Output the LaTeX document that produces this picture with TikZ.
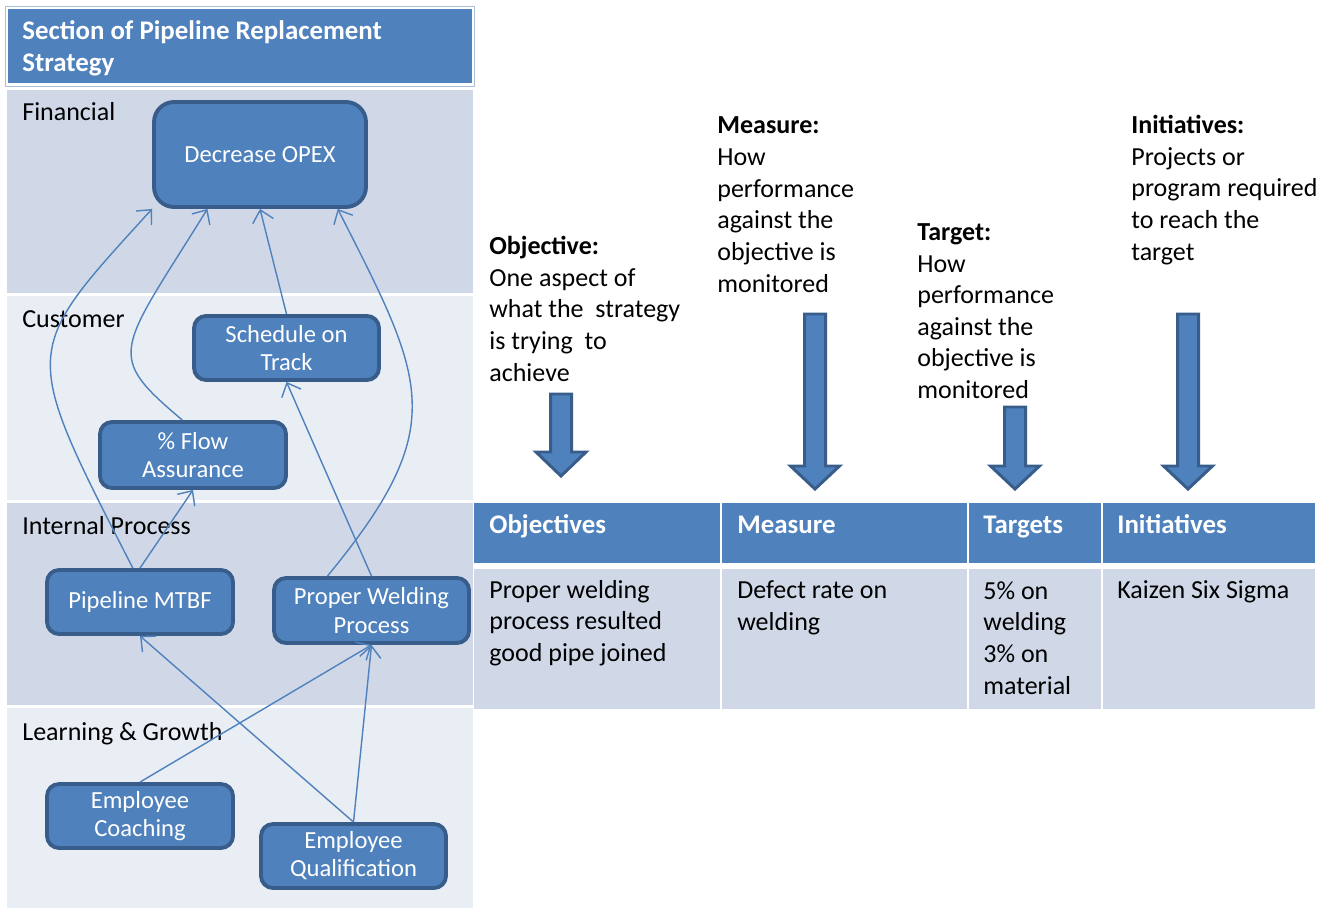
\documentclass[tikz,border=0pt]{standalone}
\usepackage{fontspec}
\setmainfont{Carlito}
\usepackage{tikz}
\usetikzlibrary{arrows.meta,positioning}
\usepackage{xcolor}
\definecolor{ofblue}{RGB}{79,129,189}
\definecolor{ofdark}{RGB}{56,93,138}
\definecolor{banddark}{RGB}{208,216,232}
\definecolor{bandlight}{RGB}{233,237,244}
\tikzstyle{goal} = [rectangle, rounded corners=0.24cm, minimum width=3.72cm, minimum height=1.28cm, draw=ofdark, fill=ofblue, line width=2.2pt, text=white, align=center, inner sep=0pt, font=\fontsize{14}{16}\selectfont]
\tikzstyle{link} = [ofblue, line width=0.8pt, -{Straight Barb[length=6.5pt,width=12pt]}]
\tikzstyle{lbl} = [anchor=base west, inner sep=0pt, align=left, font=\fontsize{14.8}{18}\selectfont]
\tikzstyle{headlbl} = [lbl, text=white, font=\bfseries\fontsize{15.3}{18}\selectfont]
\tikzstyle{bigarrow} = [draw=ofdark, fill=ofblue, line width=1.7pt]

\begin{document}
\begin{tikzpicture}[x=0.02cm, y=-0.02cm]
\useasboundingbox (0,0) rectangle (1331,909);

% perspective bands
\draw[banddark!70!ofblue, line width=0.4pt] (5,6) rectangle (474,86);
\fill[ofblue] (8,9) rectangle (472,83);
\fill[banddark] (7,90) rectangle (473,293);
\fill[bandlight] (7,296) rectangle (473,500);
\fill[banddark] (7,503) rectangle (473,705);
\fill[bandlight] (7,708) rectangle (473,908);

% multi-line labels sit on the baseline of their last line
\node[headlbl] (title) at (22,71.5) {Section of Pipeline Replacement\\Strategy};
\node[lbl] (fin) at (22,120) {Financial};
\node[lbl] (cus) at (22,327) {Customer};
\node[lbl] (ip) at (22,534) {Internal Process};
\node[lbl] (lg) at (22,740) {Learning \& Growth};

% strategy map
\node[goal, minimum width=4.24cm, minimum height=2.1cm, rounded corners=0.4cm] (opex) at (260,154.5) {Decrease OPEX};
\node[goal, minimum width=3.7cm] (sched) at (286.5,348) {Schedule on\\Track};
\node[goal, minimum height=1.32cm] (flow) at (193,455) {\% Flow\\Assurance};
\node[goal] (mtbf) at (140,602) {Pipeline MTBF};
\node[goal, minimum width=3.9cm, minimum height=1.3cm] (weld) at (371.5,610.5) {Proper Welding\\Process};
\node[goal] (coach) at (140,816) {Employee\\Coaching};
\node[goal, minimum width=3.7cm] (qual) at (353.5,856) {Employee\\Qualification};

\draw[link] (mtbf.102) .. controls (20,347) and (20,354) .. (opex.south west);
\draw[link] (flow.107) .. controls (104,354) and (118,353) .. (opex.226);
\draw[link] (sched.north) -- (opex.south);
\draw[link] (weld.142) .. controls (452,425) and (425,381) .. (opex.-35);
\draw[link] (mtbf.north) -- (flow.south);
\draw[link] (weld.north) -- (sched.south);
\draw[link] (qual.north) -- (mtbf.south);
\draw[link] (coach.north) -- (weld.south);
\draw[link] (qual.north) -- (weld.south);

% explanations
\node[lbl] (objtxt) at (489,381) {\textbf{Objective:}\\One aspect of\\what the~ strategy\\is trying~ to\\achieve};
\node[lbl] (meastxt) at (717,292) {\textbf{Measure:}\\How\\performance\\against the\\objective is\\monitored};
\node[lbl] (targtxt) at (917,398.5) {\textbf{Target:}\\How\\performance\\against the\\objective is\\monitored};
\node[lbl] (inittxt) at (1131,260) {\textbf{Initiatives:}\\Projects or\\program required\\to reach the\\target};

\foreach \cx/\ty/\hy/\py/\hw in {561/394/452/476/25, 815/314/466/489/24.5, 1015/407/466/489/24.5, 1188/314/466/489/24.5}
  \draw[bigarrow] ({\cx-10.5},\ty) -- ({\cx+10.5},\ty) -- ({\cx+10.5},\hy) -- ({\cx+\hw},\hy) -- (\cx,\py) -- ({\cx-\hw},\hy) -- ({\cx-10.5},\hy) -- cycle;

% table
\foreach \xa/\xb in {474/720, 722/967, 969/1101, 1103/1315} {
  \fill[ofblue] (\xa,503) rectangle (\xb,563);
  \fill[banddark] (\xa,569) rectangle (\xb,709);
}
\node[headlbl] (hobj) at (489,533) {Objectives};
\node[headlbl] (hmeas) at (737,533) {Measure};
\node[headlbl] (htarg) at (983,533) {Targets};
\node[headlbl] (hinit) at (1117,533) {Initiatives};
\node[lbl] (cobj) at (489,661.5) {Proper welding\\process resulted\\good pipe joined};
\node[lbl] (cmeas) at (737,630) {Defect rate on\\welding};
\node[lbl] (ctarg) at (983,694) {5\% on\\welding\\3\% on\\material};
\node[lbl] (cinit) at (1117,598) {Kaizen Six Sigma};
\end{tikzpicture}
\end{document}
